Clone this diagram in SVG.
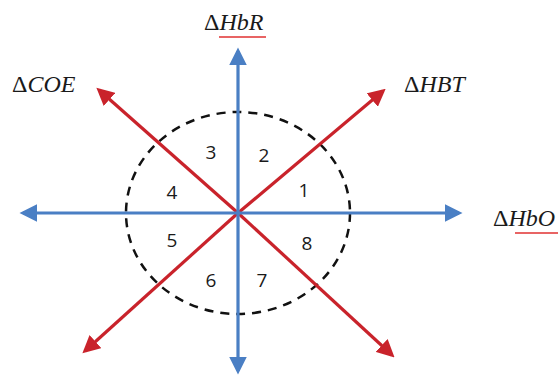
<svg xmlns="http://www.w3.org/2000/svg" width="558" height="380" viewBox="0 0 558 380">
<defs>
<style>
.blue{stroke:#4a7fc4;stroke-width:3.2;fill:none}
.red{stroke:#c9232b;stroke-width:3.2;fill:none}
.num{font-family:"Open Sans","Liberation Sans",sans-serif;font-size:19px;fill:#1a1a1a;text-anchor:middle}
.lbl{font-family:"Liberation Serif",serif;font-size:24px;fill:#1a1a1a}
.it{font-style:italic}
.ul{stroke:#e03030;stroke-width:1.5;fill:none}
</style>
<marker id="ab" viewBox="0 0 10 10" refX="8" refY="5" markerWidth="5.5" markerHeight="5.5" orient="auto" markerUnits="strokeWidth"><path d="M0,0 L10,5 L0,10 Z" fill="#4a7fc4"/></marker>
<marker id="ar" viewBox="0 0 10 10" refX="8" refY="5" markerWidth="5.5" markerHeight="5.5" orient="auto" markerUnits="strokeWidth"><path d="M0,0 L10,5 L0,10 Z" fill="#c9232b"/></marker>
</defs>
<rect width="558" height="380" fill="#fff"/>
<g id="circle"><ellipse cx="238" cy="213" rx="112" ry="101" fill="none" stroke="#111" stroke-width="2.5" stroke-dasharray="9,7"/></g>
<g id="connectors">
<line class="red" x1="238" y1="213" x2="383" y2="91" marker-end="url(#ar)"/>
<line class="red" x1="238" y1="213" x2="99" y2="90" marker-end="url(#ar)"/>
<line class="red" x1="238" y1="213" x2="85" y2="351" marker-end="url(#ar)"/>
<line class="red" x1="238" y1="213" x2="392" y2="355" marker-end="url(#ar)"/>
<line class="blue" x1="238" y1="213" x2="238" y2="51" marker-end="url(#ab)"/>
<line class="blue" x1="238" y1="213" x2="238" y2="371" marker-end="url(#ab)"/>
<line class="blue" x1="238" y1="213" x2="23" y2="213" marker-end="url(#ab)"/>
<line class="blue" x1="238" y1="213" x2="459" y2="213" marker-end="url(#ab)"/>
</g>
<g id="sectors">
<text class="num" x="304" y="197">1</text>
<text class="num" x="264" y="162">2</text>
<text class="num" x="211" y="159">3</text>
<text class="num" x="172" y="199">4</text>
<text class="num" x="172" y="247">5</text>
<text class="num" x="211" y="287">6</text>
<text class="num" x="262" y="287">7</text>
<text class="num" x="307" y="250">8</text>
</g>
<g id="label-hbr"><text class="lbl" x="204" y="30">Δ<tspan class="it">HbR</tspan></text><path class="ul" d="M219,37 L266,37"/></g>
<g id="label-coe"><text class="lbl" x="12" y="92">Δ<tspan class="it">COE</tspan></text></g>
<g id="label-hbt"><text class="lbl" x="404" y="92">Δ<tspan class="it">HBT</tspan></text></g>
<g id="label-hbo"><text class="lbl" x="493" y="226">Δ<tspan class="it">HbO</tspan></text><path class="ul" d="M515,233 L558,233"/></g>
</svg>
